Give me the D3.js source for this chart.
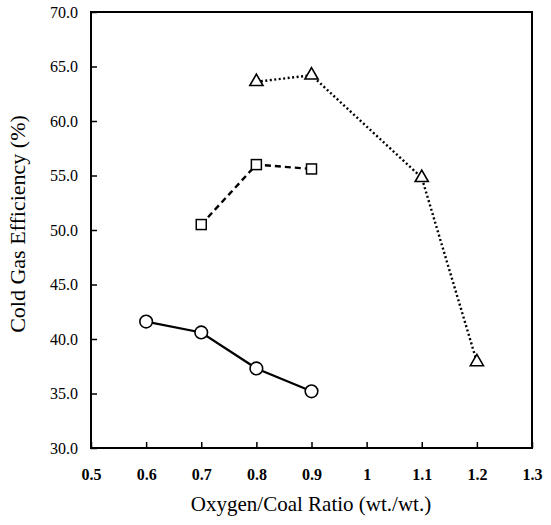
<!DOCTYPE html>
<html><head><meta charset="utf-8">
<script src="https://cdn.jsdelivr.net/npm/d3@7"></script>
<style>body{margin:0;background:#fff}svg{display:block}</style>
</head><body>
<svg id="c" width="551" height="525"></svg>
<script>
const xTicks = [0.5,0.6,0.7,0.8,0.9,1.0,1.1,1.2,1.3];
const xTickLabels = ["0.5","0.6","0.7","0.8","0.9","1","1.1","1.2","1.3"];
const yTicks = [30,35,40,45,50,55,60,65,70];
const circleX = [0.6,0.7,0.8,0.9];
const circleY = [41.6,40.6,37.3,35.2];
const squareX = [0.7,0.8,0.9];
const squareY = [50.5,56.0,55.6];
const triangleX = [0.8,0.9,1.1,1.2];
const triangleY = [63.6,64.2,54.8,37.9];

const svg = d3.select("#c");
const L=91, R=532, T=12, B=448;
const x = d3.scaleLinear().domain([0.5,1.3]).range([L,R]);
const y = d3.scaleLinear().domain([30,70]).range([B,T]);
const font = "'Liberation Serif', 'Times New Roman', serif";

svg.append("rect").attr("x",L).attr("y",T).attr("width",R-L).attr("height",B-T)
  .attr("fill","none").attr("stroke","#000").attr("stroke-width",2);

const xAxis = d3.axisBottom(x).tickValues(xTicks).tickFormat((d,i)=>xTickLabels[i]).tickSizeInner(-6).tickSizeOuter(0).tickPadding(21);
const gx = svg.append("g").attr("transform",`translate(0,${B})`).call(xAxis);
gx.select(".domain").remove();
gx.selectAll(".tick line").attr("stroke","#000").attr("stroke-width",1.5);
gx.selectAll(".tick text").attr("font-family",font).attr("font-size",16).attr("font-weight","bold").attr("fill","#000");

const yAxis = d3.axisLeft(y).tickValues(yTicks).tickFormat(d3.format(".1f")).tickSizeInner(-6).tickSizeOuter(0).tickPadding(13);
const gy = svg.append("g").attr("transform",`translate(${L},0)`).call(yAxis);
gy.select(".domain").remove();
gy.selectAll(".tick line").attr("stroke","#000").attr("stroke-width",1.5);
gy.selectAll(".tick text").attr("font-family",font).attr("font-size",16).attr("fill","#000");

svg.append("text").attr("x",311).attr("y",511).attr("text-anchor","middle")
  .attr("font-family",font).attr("font-size",21).text("Oxygen/Coal Ratio (wt./wt.)");
svg.append("text").attr("transform",`translate(25,224) rotate(-90)`).attr("text-anchor","middle")
  .attr("font-family",font).attr("font-size",22).text("Cold Gas Efficiency (%)");

const line = d3.line().x(d=>x(d[0])).y(d=>y(d[1]));
const cData = circleX.map((v,i)=>[v,circleY[i]]);
const sData = squareX.map((v,i)=>[v,squareY[i]]);
const tData = triangleX.map((v,i)=>[v,triangleY[i]]);

svg.append("path").datum(cData).attr("d",line).attr("fill","none").attr("stroke","#000").attr("stroke-width",2.2);
svg.append("path").datum(sData).attr("d",line).attr("fill","none").attr("stroke","#000").attr("stroke-width",2.4).attr("stroke-dasharray","6,4");
svg.append("path").datum(tData).attr("d",line).attr("fill","none").attr("stroke","#000").attr("stroke-width",2.4).attr("stroke-dasharray","2,2.5");

svg.selectAll(".cm").data(cData).enter().append("circle")
  .attr("cx",d=>x(d[0])).attr("cy",d=>y(d[1])).attr("r",6.3)
  .attr("fill","#fff").attr("stroke","#000").attr("stroke-width",1.6);
svg.selectAll(".sm").data(sData).enter().append("rect")
  .attr("x",d=>x(d[0])-5).attr("y",d=>y(d[1])-5).attr("width",10).attr("height",10)
  .attr("fill","#fff").attr("stroke","#000").attr("stroke-width",1.5);
const tri = d3.symbol().type(d3.symbolTriangle).size(75);
svg.selectAll(".tm").data(tData).enter().append("path")
  .attr("d",tri).attr("transform",d=>`translate(${x(d[0])},${y(d[1])})`)
  .attr("fill","#fff").attr("stroke","#000").attr("stroke-width",1.6);
</script>
</body></html>
